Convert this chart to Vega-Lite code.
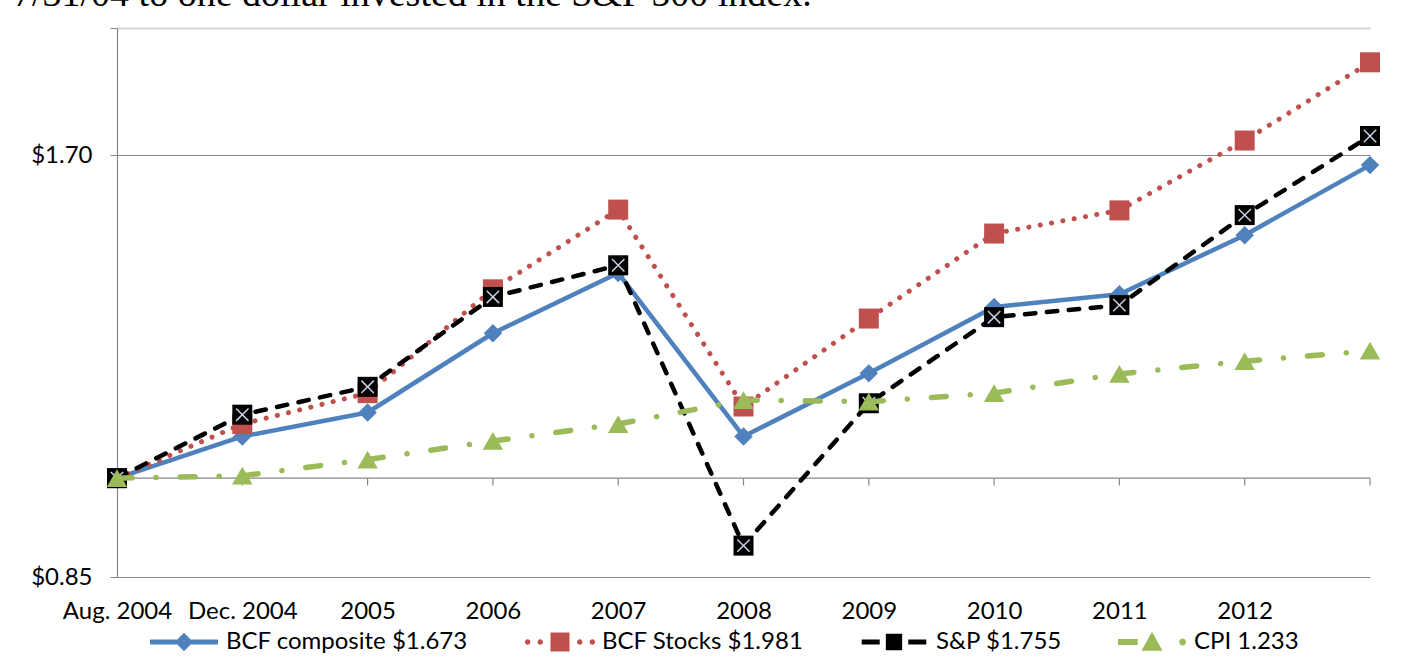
{
  "$schema": "https://vega.github.io/schema/vega-lite/v6.json",
  "autosize": {"type": "none"},
  "width": 1253,
  "height": 549,
  "padding": {"left": 117, "top": 28, "right": 37, "bottom": 81},
  "background": "white",
  "title": {
    "text": "7/31/04 to one dollar invested in the S&P 500 index.",
    "anchor": "start",
    "frame": "group",
    "font": "Liberation Serif",
    "fontSize": 38,
    "fontWeight": "normal",
    "color": "black",
    "baseline": "alphabetic",
    "offset": 16,
    "dy": 32,
    "dx": -104
  },
  "config": {
    "view": {"stroke": null},
    "font": "Lato"
  },
  "data": {
    "values": [
      {"period": "Aug. 2004", "series": "BCF composite $1.673", "value": 1.000},
      {"period": "Dec. 2004", "series": "BCF composite $1.673", "value": 1.071},
      {"period": "2005", "series": "BCF composite $1.673", "value": 1.114},
      {"period": "2006", "series": "BCF composite $1.673", "value": 1.269},
      {"period": "2007", "series": "BCF composite $1.673", "value": 1.401},
      {"period": "2008", "series": "BCF composite $1.673", "value": 1.071},
      {"period": "2009", "series": "BCF composite $1.673", "value": 1.188},
      {"period": "2010", "series": "BCF composite $1.673", "value": 1.325},
      {"period": "2011", "series": "BCF composite $1.673", "value": 1.353},
      {"period": "2012", "series": "BCF composite $1.673", "value": 1.491},
      {"period": "2013", "series": "BCF composite $1.673", "value": 1.673},
      {"period": "Aug. 2004", "series": "BCF Stocks $1.981", "value": 1.000},
      {"period": "Dec. 2004", "series": "BCF Stocks $1.981", "value": 1.093},
      {"period": "2005", "series": "BCF Stocks $1.981", "value": 1.150},
      {"period": "2006", "series": "BCF Stocks $1.981", "value": 1.364},
      {"period": "2007", "series": "BCF Stocks $1.981", "value": 1.555},
      {"period": "2008", "series": "BCF Stocks $1.981", "value": 1.125},
      {"period": "2009", "series": "BCF Stocks $1.981", "value": 1.300},
      {"period": "2010", "series": "BCF Stocks $1.981", "value": 1.495},
      {"period": "2011", "series": "BCF Stocks $1.981", "value": 1.553},
      {"period": "2012", "series": "BCF Stocks $1.981", "value": 1.742},
      {"period": "2013", "series": "BCF Stocks $1.981", "value": 1.981},
      {"period": "Aug. 2004", "series": "S&P $1.755", "value": 1.000},
      {"period": "Dec. 2004", "series": "S&P $1.755", "value": 1.110},
      {"period": "2005", "series": "S&P $1.755", "value": 1.162},
      {"period": "2006", "series": "S&P $1.755", "value": 1.347},
      {"period": "2007", "series": "S&P $1.755", "value": 1.419},
      {"period": "2008", "series": "S&P $1.755", "value": 0.895},
      {"period": "2009", "series": "S&P $1.755", "value": 1.131},
      {"period": "2010", "series": "S&P $1.755", "value": 1.303},
      {"period": "2011", "series": "S&P $1.755", "value": 1.329},
      {"period": "2012", "series": "S&P $1.755", "value": 1.541},
      {"period": "2013", "series": "S&P $1.755", "value": 1.755},
      {"period": "Aug. 2004", "series": "CPI 1.233", "value": 1.000},
      {"period": "Dec. 2004", "series": "CPI 1.233", "value": 1.004},
      {"period": "2005", "series": "CPI 1.233", "value": 1.031},
      {"period": "2006", "series": "CPI 1.233", "value": 1.063},
      {"period": "2007", "series": "CPI 1.233", "value": 1.093},
      {"period": "2008", "series": "CPI 1.233", "value": 1.137},
      {"period": "2009", "series": "CPI 1.233", "value": 1.134},
      {"period": "2010", "series": "CPI 1.233", "value": 1.150},
      {"period": "2011", "series": "CPI 1.233", "value": 1.187},
      {"period": "2012", "series": "CPI 1.233", "value": 1.212},
      {"period": "2013", "series": "CPI 1.233", "value": 1.233}
    ]
  },
  "encoding": {
    "x": {
      "field": "period",
      "type": "ordinal",
      "scale": {"type": "point", "padding": 0, "domain": ["Aug. 2004", "Dec. 2004", "2005", "2006", "2007", "2008", "2009", "2010", "2011", "2012", "2013"]},
      "axis": {
        "title": null,
        "domain": false,
        "ticks": false,
        "grid": false,
        "labelAngle": 0,
        "labelExpr": "datum.value == '2013' ? '' : datum.label",
        "labelFont": "Lato",
        "labelFontSize": 24,
        "labelColor": "black",
        "labelPadding": 22
      }
    },
    "y": {
      "field": "value",
      "type": "quantitative",
      "scale": {"type": "log", "domain": [0.85, 2.096], "nice": false, "zero": false},
      "axis": {
        "title": null,
        "values": [0.85, 1.7, 2.096],
        "labelExpr": "datum.value > 2 ? '' : '$' + format(datum.value, '.2f')",
        "grid": true,
        "gridColor": {"condition": {"test": "datum.value > 2", "value": "#d4d4d4"}, "value": "#868686"},
        "gridWidth": {"condition": {"test": "datum.value > 2", "value": 2}, "value": 1.2},
        "domainColor": "#868686",
        "domainWidth": 1.2,
        "tickColor": "#868686",
        "tickSize": 7,
        "labelFont": "Lato",
        "labelFontSize": 24,
        "labelColor": "black",
        "labelPadding": 18
      }
    },
    "order": {"value": null}
  },
  "layer": [
    {
      "transform": [{"filter": "datum.series == 'CPI 1.233' && datum.period == 'Aug. 2004'"}],
      "mark": {"type": "rule", "color": "#868686", "strokeWidth": 1.2},
      "encoding": {
        "x": {"datum": "Aug. 2004", "type": "ordinal"},
        "x2": {"datum": "2013"},
        "y": {"datum": 1, "type": "quantitative"}
      }
    },
    {
      "transform": [{"filter": "datum.series == 'CPI 1.233'"}],
      "mark": {"type": "rule", "color": "#868686", "strokeWidth": 1.2},
      "encoding": {"y": {"datum": 1, "type": "quantitative"}, "y2": {"datum": 0.988}}
    },
    {
      "transform": [{"filter": "datum.series == 'BCF composite $1.673'"}],
      "mark": {"type": "line", "color": "#4F81BD", "strokeWidth": 4.5, "strokeCap": "round", "strokeJoin": "round"}
    },
    {
      "transform": [{"filter": "datum.series == 'BCF composite $1.673'"}],
      "mark": {"type": "point", "shape": "diamond", "filled": true, "color": "#4F81BD", "size": 340, "opacity": 1}
    },
    {
      "transform": [{"filter": "datum.series == 'BCF Stocks $1.981'"}],
      "mark": {"type": "line", "color": "#C0504D", "strokeWidth": 5, "strokeCap": "round", "strokeJoin": "round", "strokeDash": [0.1, 11.4]}
    },
    {
      "transform": [{"filter": "datum.series == 'BCF Stocks $1.981'"}],
      "mark": {"type": "point", "shape": "square", "filled": true, "color": "#C0504D", "size": 400, "opacity": 1}
    },
    {
      "transform": [{"filter": "datum.series == 'S&P $1.755'"}],
      "mark": {"type": "line", "color": "#000000", "strokeWidth": 4.5, "strokeCap": "round", "strokeJoin": "round", "strokeDash": [10.5, 11.5]}
    },
    {
      "transform": [{"filter": "datum.series == 'S&P $1.755'"}],
      "mark": {"type": "point", "shape": "square", "filled": true, "color": "#000000", "size": 400, "opacity": 1}
    },
    {
      "transform": [{"filter": "datum.series == 'S&P $1.755'"}],
      "mark": {"type": "point", "shape": "M-0.62,-0.62L0.62,0.62M0.62,-0.62L-0.62,0.62", "filled": false, "color": "#c9d2e4", "strokeWidth": 1.5, "size": 400, "opacity": 1}
    },
    {
      "transform": [{"filter": "datum.series == 'CPI 1.233'"}],
      "mark": {"type": "line", "color": "#9BBB59", "strokeWidth": 5.5, "strokeCap": "round", "strokeJoin": "round", "strokeDash": [15, 24, 0.1, 24]}
    },
    {
      "transform": [{"filter": "datum.series == 'CPI 1.233'"}],
      "mark": {"type": "point", "shape": "triangle-up", "filled": true, "color": "#9BBB59", "size": 420, "opacity": 1}
    },
    {
      "transform": [{"filter": "false"}],
      "mark": {"type": "point", "filled": true, "opacity": 1},
      "encoding": {
        "color": {
          "field": "series",
          "type": "nominal",
          "scale": {
            "domain": ["BCF composite $1.673", "BCF Stocks $1.981", "S&P $1.755", "CPI 1.233"],
            "range": ["#4F81BD", "#C0504D", "#000000", "#9BBB59"]
          },
          "legend": {
            "title": null,
            "orient": "none",
            "direction": "horizontal",
            "legendX": 33,
            "legendY": 580,
            "symbolSize": 4624,
            "symbolStrokeWidth": 0,
            "labelFont": "Lato",
            "labelFontSize": 24,
            "labelColor": "black",
            "labelLimit": 500,
            "labelOffset": 8,
            "columnPadding": 56,
            "padding": 0
          }
        },
        "shape": {
          "field": "series",
          "type": "nominal",
          "scale": {
            "domain": ["BCF composite $1.673", "BCF Stocks $1.981", "S&P $1.755", "CPI 1.233"],
            "range": [
              "M-1,-0.07H1V0.07H-1Z M0,-0.27L0.27,0L0,0.27L-0.27,0Z",
              "M-1.03,0A0.08,0.08 0 1 0 -0.87,0A0.08,0.08 0 1 0 -1.03,0Z M-0.66,0A0.08,0.08 0 1 0 -0.5,0A0.08,0.08 0 1 0 -0.66,0Z M0.5,0A0.08,0.08 0 1 0 0.66,0A0.08,0.08 0 1 0 0.5,0Z M0.87,0A0.08,0.08 0 1 0 1.03,0A0.08,0.08 0 1 0 0.87,0Z M-0.28,-0.28H0.28V0.28H-0.28Z",
              "M-0.95,-0.07H-0.42V0.07H-0.95Z M0.42,-0.07H0.95V0.07H0.42Z M-0.24,-0.24H0.24V0.24H-0.24Z M-0.2,-0.15L-0.15,-0.2L0.2,0.15L0.15,0.2Z M0.15,-0.2L0.2,-0.15L-0.15,0.2L-0.2,0.15Z",
              "M-1,-0.09H-0.42V0.09H-1Z M0,-0.3L0.31,0.26L-0.31,0.26Z M0.8,0A0.1,0.1 0 1 0 1,0A0.1,0.1 0 1 0 0.8,0Z"
            ]
          },
          "legend": {
            "title": null,
            "orient": "none",
            "direction": "horizontal",
            "legendX": 33,
            "legendY": 580,
            "symbolSize": 4624,
            "symbolStrokeWidth": 0,
            "labelFont": "Lato",
            "labelFontSize": 24,
            "labelColor": "black",
            "labelLimit": 500,
            "labelOffset": 8,
            "columnPadding": 56,
            "padding": 0
          }
        }
      }
    }
  ]
}
